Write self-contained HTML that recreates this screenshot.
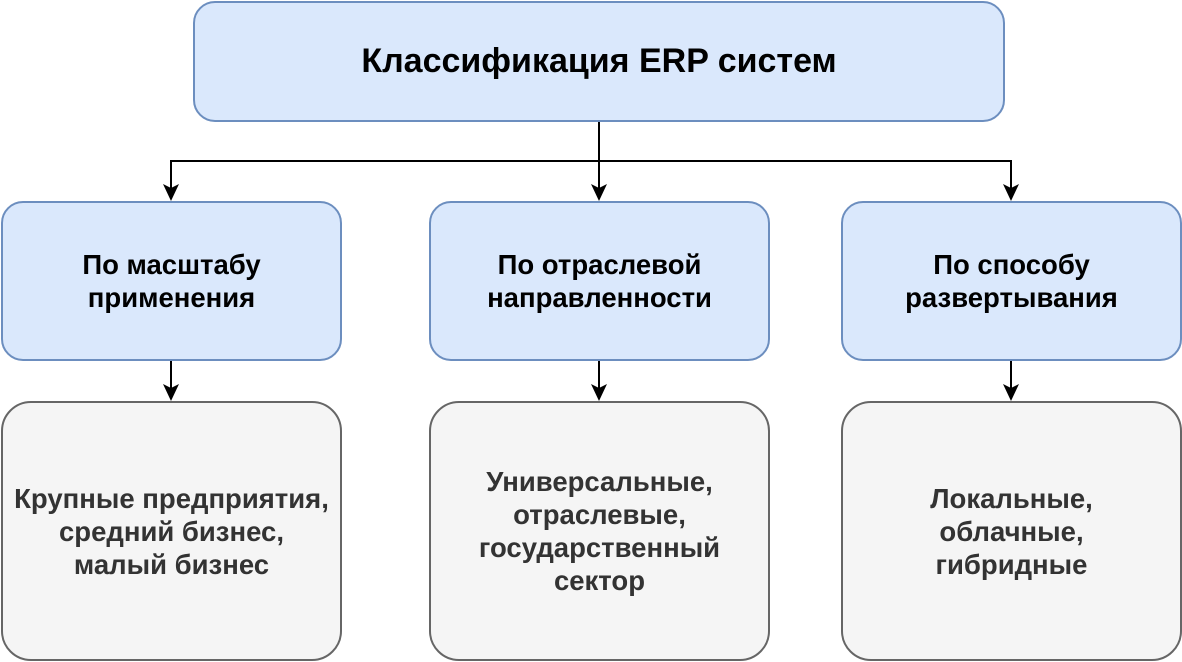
<!DOCTYPE html>
<html><head><meta charset="utf-8"><style>
html,body{margin:0;padding:0;background:#fff;}
body{width:1182px;height:662px;position:relative;overflow:hidden;font-family:"Liberation Sans",Arial,sans-serif;font-weight:bold;}
.b{position:absolute;box-sizing:border-box;display:flex;align-items:center;justify-content:center;text-align:center;}
.blue{background:#dae8fc;border:2px solid #6c8ebf;border-radius:22px;color:#000;font-size:27.5px;line-height:33px;}
.gray{background:#f5f5f5;border:2px solid #666;border-radius:30px;color:#333;font-size:27.5px;line-height:33px;}
svg{position:absolute;left:0;top:0;}
</style></head><body>
<svg width="1182" height="662">
<g stroke="#000" stroke-width="2" fill="none">
<path d="M599 121 V190"/>
<path d="M171 190 V161 H1011 V190"/>
<path d="M171 360 V390"/><path d="M599 360 V390"/><path d="M1011 360 V390"/>
</g>
<g fill="#000">
<path d="M163 184 L171 201 L179 184 L171 188 Z"/>
<path d="M591 184 L599 201 L607 184 L599 188 Z"/>
<path d="M1003 184 L1011 201 L1019 184 L1011 188 Z"/>
<path d="M163 384 L171 401 L179 384 L171 388 Z"/>
<path d="M591 384 L599 401 L607 384 L599 388 Z"/>
<path d="M1003 384 L1011 401 L1019 384 L1011 388 Z"/>
</g>
</svg>
<div class="b blue" style="left:193px;top:1px;width:812px;height:121px;font-size:34px;">Классификация ERP систем</div>
<div class="b blue" style="left:1px;top:201px;width:341px;height:160px;">По масштабу<br>применения</div>
<div class="b blue" style="left:429px;top:201px;width:341px;height:160px;">По отраслевой<br>направленности</div>
<div class="b blue" style="left:841px;top:201px;width:341px;height:160px;">По способу<br>развертывания</div>
<div class="b gray" style="left:1px;top:401px;width:341px;height:260px;">Крупные предприятия,<br>средний бизнес,<br>малый бизнес</div>
<div class="b gray" style="left:429px;top:401px;width:341px;height:260px;">Универсальные,<br>отраслевые,<br>государственный<br>сектор</div>
<div class="b gray" style="left:841px;top:401px;width:341px;height:260px;">Локальные,<br>облачные,<br>гибридные</div>
</body></html>
